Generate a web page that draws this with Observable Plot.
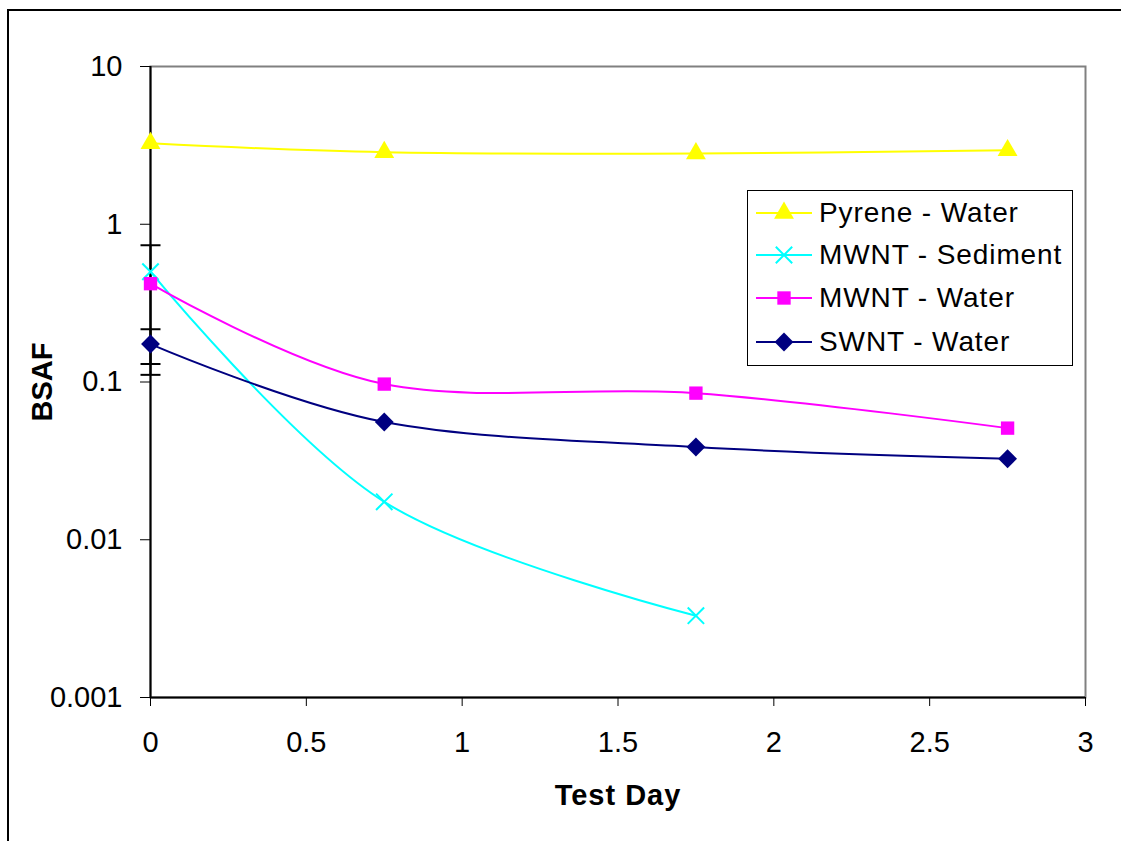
<!DOCTYPE html>
<html>
<head>
<meta charset="utf-8">
<script src="https://cdn.jsdelivr.net/npm/d3@7"></script>
<script src="https://cdn.jsdelivr.net/npm/@observablehq/plot@0.6"></script>
<style>
  html, body { margin: 0; padding: 0; background: #fff; }
  body { width: 1121px; height: 841px; overflow: hidden; position: relative; font-family: "Liberation Sans", Arial, sans-serif; }
  #border { position: absolute; left: 7px; top: 9px; width: 1200px; height: 1000px; border-left: 2px solid #000; border-top: 2px solid #000; }
  #chart { position: absolute; left: 0; top: 0; }
  #legend { position: absolute; left: 747px; top: 190px; width: 324px; height: 174px; border: 1px solid #000; background: #fff; box-sizing: content-box; }
  .entry { position: absolute; left: 8px; height: 30px; display: flex; align-items: center; font-size: 28px; color: #000; letter-spacing: 0.9px; white-space: nowrap; }
  .entry svg { margin-right: 7px; }
  g[aria-label="y-axis tick label"], g[aria-label="x-axis tick label"] { font-size: 29px; }
  g[aria-label="y-axis label"], g[aria-label="x-axis label"] { font-weight: bold; font-size: 29px; }
  g[aria-label="x-axis label"] { letter-spacing: 1px; }
</style>
</head>
<body>
<div id="border"></div>
<div id="chart"></div>
<div id="legend"></div>
<script>
// ---- data ----
const days = [0, 0.75, 1.75, 2.75];
const pyreneWater = [3.26, 2.86, 2.81, 2.94];
const mwntSedimentDays = [0, 0.75, 1.75];
const mwntSediment = [0.50, 0.0174, 0.0033];
const mwntWater = [0.42, 0.097, 0.085, 0.051];
const swntWater = [0.174, 0.0558, 0.0387, 0.0326];
// error bars at day 0
const errDays = [0, 0];
const errLow = [0.111, 0.130];
const errHigh = [0.736, 0.216];

const seriesNames = ["Pyrene - Water", "MWNT - Sediment", "MWNT - Water", "SWNT - Water"];
const seriesColors = ["#FFFF00", "#00FFFF", "#FF00FF", "#000080"];
const seriesSymbols = ["triangle2", "times", "square2", "diamond2"];
const seriesR = [9.5, 7.5, 8.5, 8.5];

const yTicks = [0.001, 0.01, 0.1, 1, 10];
const yTickLabels = ["0.001", "0.01", "0.1", "1", "10"];
const xTicks = [0, 0.5, 1, 1.5, 2, 2.5, 3];
const xTickLabels = ["0", "0.5", "1", "1.5", "2", "2.5", "3"];

const seriesData = [
  days.map((d, i) => ({day: d, v: pyreneWater[i]})),
  mwntSedimentDays.map((d, i) => ({day: d, v: mwntSediment[i]})),
  days.map((d, i) => ({day: d, v: mwntWater[i]})),
  days.map((d, i) => ({day: d, v: swntWater[i]}))
];
const errData = errDays.map((d, i) => ({day: d, lo: errLow[i], hi: errHigh[i]}));
const capData = errData.flatMap(e => [{day: e.day, v: e.lo}, {day: e.day, v: e.hi}]);

const capSymbol = {
  draw(context, size) {
    const r = Math.sqrt(size / Math.PI);
    context.moveTo(-r, 0);
    context.lineTo(r, 0);
  }
};

const marks = [
  Plot.frame({stroke: "#808080", strokeWidth: 2}),
  Plot.axisY({ticks: yTicks, tickFormat: d => yTickLabels[yTicks.indexOf(d)], tickSize: 10, tickPadding: 18, fontSize: 29,
    label: "BSAF", labelAnchor: "center", labelArrow: "none", labelOffset: 119}),
  Plot.axisX({ticks: xTicks, tickFormat: d => xTickLabels[xTicks.indexOf(d)], tickSize: 9, tickPadding: 25, fontSize: 29,
    label: "Test Day", labelAnchor: "center", labelArrow: "none", labelOffset: 107}),
  Plot.ruleY([0.001], {stroke: "#000", strokeWidth: 2}),
  Plot.ruleX([0], {stroke: "#000", strokeWidth: 2}),
  // error bars
  Plot.ruleX(errData, {x: "day", y1: "lo", y2: "hi", stroke: "#000", strokeWidth: 2}),
  Plot.dot(capData, {x: "day", y: "v", symbol: capSymbol, r: 10, stroke: "#000", strokeWidth: 2})
];
seriesData.forEach((data, i) => {
  marks.push(Plot.line(data, {x: "day", y: "v", stroke: seriesColors[i], strokeWidth: 2, curve: "cardinal"}));
});
seriesData.forEach((data, i) => {
  const filled = seriesSymbols[i] !== "times";
  marks.push(Plot.dot(data, {x: "day", y: "v", symbol: seriesSymbols[i], r: seriesR[i],
    fill: filled ? seriesColors[i] : "none", stroke: seriesColors[i], strokeWidth: filled ? 0 : 2}));
});

const chart = Plot.plot({
  width: 1121,
  height: 841,
  marginLeft: 150,
  marginRight: 36,
  marginTop: 66,
  marginBottom: 144,
  style: {fontFamily: "'Liberation Sans', Arial, sans-serif", fontSize: "29px", color: "#000", background: "transparent", overflow: "visible"},
  x: {domain: [0, 3]},
  y: {type: "log", domain: [0.001, 10]},
  marks
});
document.getElementById("chart").appendChild(chart);

// legend
const legend = document.getElementById("legend");
const rowTops = [7, 49, 92, 136];
seriesNames.forEach((name, i) => {
  const div = document.createElement("div");
  div.className = "entry";
  div.style.top = rowTops[i] + "px";
  const sym = d3.symbol(seriesSymbols[i] === "triangle2" ? d3.symbolTriangle2 :
                        seriesSymbols[i] === "times" ? d3.symbolTimes :
                        seriesSymbols[i] === "square2" ? d3.symbolSquare2 : d3.symbolDiamond2,
                        Math.PI * seriesR[i] * seriesR[i])();
  const filled = seriesSymbols[i] !== "times";
  div.innerHTML = `<svg width="56" height="30" viewBox="0 0 56 30">
    <line x1="0" x2="56" y1="15" y2="15" stroke="${seriesColors[i]}" stroke-width="2"/>
    <path d="${sym}" transform="translate(28,15)" fill="${filled ? seriesColors[i] : 'none'}" stroke="${filled ? 'none' : seriesColors[i]}" stroke-width="2"/>
  </svg><span>${name}</span>`;
  legend.appendChild(div);
});
</script>
</body>
</html>
